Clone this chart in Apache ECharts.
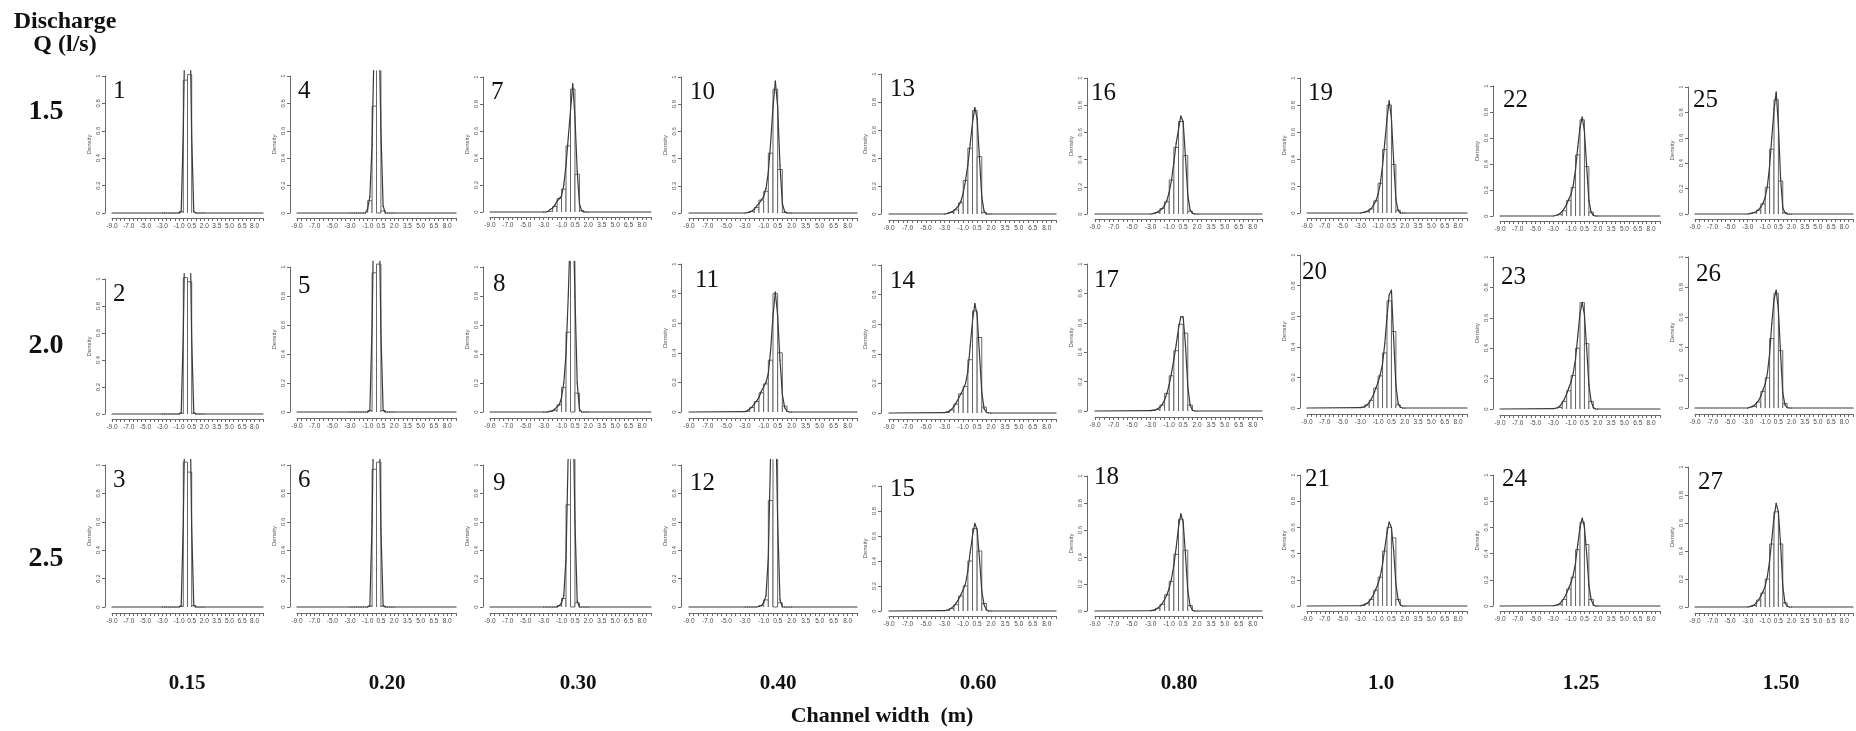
<!DOCTYPE html>
<html>
<head>
<meta charset="utf-8">
<script src="https://cdn.jsdelivr.net/npm/echarts@6/dist/echarts.min.js"></script>
<style>
  html, body { margin: 0; padding: 0; background: #ffffff; }
  #chart { width: 1856px; height: 731px; }
</style>
</head>
<body>
<div id="chart"></div>
<script>
// ---- axis labels ----
const xLabelValues = [-9, -7, -5, -3, -1, 0.5, 2, 3.5, 5, 6.5, 8];
const dischargeLabels = ['1.5', '2.0', '2.5'];
const widthLabels = ['0.15', '0.20', '0.30', '0.40', '0.60', '0.80', '1.0', '1.25', '1.50'];

// ---- histogram breaks (bin width 0.5) ----
const breaks = [-3, -2.5, -2, -1.5, -1, -0.5, 0, 0.5, 1, 1.5, 2];

// ---- x positions of the listed density-curve heights ----
const curveX = [-9, -3, -2.75, -2.5, -2.25, -2, -1.75, -1.5, -1.25, -1, -0.75, -0.5, -0.25,
                0, 0.25, 0.5, 0.75, 1, 1.25, 1.5, 1.75, 2, 9];

// ---- bar densities per panel (one value per bin between breaks) ----
const bars1  = [0, 0, 0, 0, 0.01, 0.97, 1.01, 0, 0, 0];
const bars2  = [0, 0, 0, 0, 0.005, 1.01, 0.98, 0.005, 0, 0];
const bars3  = [0, 0, 0, 0, 0.005, 1.02, 0.95, 0.01, 0, 0];
const bars4  = [0, 0, 0, 0, 0.09, 0.78, 1.12, 0.015, 0, 0];
const bars5  = [0, 0, 0, 0, 0.01, 0.96, 1.02, 0.01, 0, 0];
const bars6  = [0, 0, 0, 0, 0.005, 0.97, 1.02, 0.005, 0, 0];
const bars7  = [0, 0.005, 0.04, 0.10, 0.17, 0.49, 0.91, 0.28, 0.01, 0];
const bars8  = [0, 0.005, 0.01, 0.05, 0.17, 0.55, 1.085, 0.13, 0, 0];
const bars9  = [0, 0, 0, 0.01, 0.06, 0.72, 1.18, 0.03, 0, 0];
const bars10 = [0, 0.01, 0.04, 0.095, 0.16, 0.44, 0.91, 0.32, 0.005, 0];
const bars11 = [0.005, 0.03, 0.07, 0.13, 0.19, 0.35, 0.80, 0.40, 0.04, 0];
const bars12 = [0, 0, 0, 0.01, 0.05, 0.75, 1.16, 0.03, 0, 0];
const bars13 = [0, 0.01, 0.03, 0.08, 0.24, 0.47, 0.74, 0.41, 0.01, 0];
const bars14 = [0.005, 0.02, 0.06, 0.13, 0.18, 0.36, 0.69, 0.51, 0.04, 0];
const bars15 = [0.005, 0.02, 0.05, 0.12, 0.20, 0.40, 0.66, 0.48, 0.06, 0];
const bars16 = [0, 0.01, 0.04, 0.09, 0.25, 0.49, 0.68, 0.43, 0.02, 0];
const bars17 = [0.005, 0.01, 0.04, 0.12, 0.24, 0.41, 0.59, 0.53, 0.04, 0];
const bars18 = [0.005, 0.02, 0.05, 0.12, 0.22, 0.42, 0.68, 0.45, 0.04, 0];
const bars19 = [0, 0.01, 0.03, 0.09, 0.22, 0.47, 0.80, 0.36, 0.02, 0];
const bars20 = [0.005, 0.02, 0.05, 0.13, 0.21, 0.36, 0.70, 0.50, 0.02, 0];
const bars21 = [0.005, 0.02, 0.05, 0.12, 0.22, 0.42, 0.60, 0.52, 0.05, 0];
const bars22 = [0, 0.01, 0.04, 0.12, 0.22, 0.47, 0.74, 0.38, 0.03, 0];
const bars23 = [0, 0.01, 0.05, 0.12, 0.22, 0.40, 0.70, 0.43, 0.05, 0];
const bars24 = [0, 0.01, 0.05, 0.13, 0.22, 0.43, 0.64, 0.47, 0.05, 0];
const bars25 = [0, 0.01, 0.03, 0.08, 0.21, 0.51, 0.90, 0.26, 0.01, 0];
const bars26 = [0, 0.01, 0.04, 0.11, 0.20, 0.46, 0.76, 0.38, 0.03, 0];
const bars27 = [0, 0.01, 0.05, 0.10, 0.20, 0.45, 0.68, 0.45, 0.03, 0];

// ---- density-curve heights per panel (one value per curveX entry) ----
const curve1  = [0, 0, 0, 0, 0, 0, 0, 0, 0, 0, 0.01, 0.6, 1.6, 1.8, 1.6, 0.55, 0.01, 0, 0, 0, 0, 0, 0];
const curve2  = [0, 0, 0, 0, 0, 0, 0, 0, 0, 0, 0.01, 0.6, 1.6, 1.8, 1.6, 0.55, 0.01, 0, 0, 0, 0, 0, 0];
const curve3  = [0, 0, 0, 0, 0, 0, 0, 0, 0, 0, 0.01, 0.6, 1.6, 1.8, 1.6, 0.55, 0.01, 0, 0, 0, 0, 0, 0];
const curve4  = [0, 0, 0, 0, 0, 0, 0, 0, 0, 0.03, 0.12, 0.5, 1.3, 1.6, 1.5, 0.6, 0.05, 0, 0, 0, 0, 0, 0];
const curve5  = [0, 0, 0, 0, 0, 0, 0, 0, 0, 0, 0.01, 0.6, 1.6, 1.8, 1.6, 0.55, 0.01, 0, 0, 0, 0, 0, 0];
const curve6  = [0, 0, 0, 0, 0, 0, 0, 0, 0, 0, 0.01, 0.6, 1.6, 1.8, 1.6, 0.55, 0.01, 0, 0, 0, 0, 0, 0];
const curve7  = [0, 0, 0, 0.005, 0.02, 0.03, 0.05, 0.08, 0.10, 0.12, 0.20, 0.35, 0.55, 0.75, 0.95, 0.70, 0.30, 0.06, 0.01, 0, 0, 0, 0];
const curve8  = [0, 0, 0, 0, 0.005, 0.01, 0.02, 0.035, 0.05, 0.10, 0.20, 0.40, 0.80, 1.30, 1.50, 0.80, 0.20, 0.02, 0, 0, 0, 0, 0];
const curve9  = [0, 0, 0, 0, 0, 0, 0, 0, 0.01, 0.03, 0.08, 0.35, 1.10, 1.50, 1.50, 0.60, 0.04, 0, 0, 0, 0, 0, 0];
const curve10 = [0, 0, 0.003, 0.008, 0.015, 0.03, 0.05, 0.07, 0.095, 0.12, 0.18, 0.30, 0.52, 0.78, 0.97, 0.78, 0.35, 0.07, 0.01, 0, 0, 0, 0];
const curve11 = [0, 0.003, 0.008, 0.02, 0.035, 0.055, 0.075, 0.10, 0.14, 0.17, 0.20, 0.26, 0.42, 0.65, 0.81, 0.65, 0.35, 0.12, 0.03, 0.005, 0, 0, 0];
const curve12 = [0, 0, 0, 0, 0, 0, 0, 0.005, 0.01, 0.03, 0.08, 0.35, 1.10, 1.50, 1.50, 0.60, 0.05, 0, 0, 0, 0, 0, 0];
const curve13 = [0, 0, 0.003, 0.01, 0.015, 0.025, 0.04, 0.06, 0.09, 0.15, 0.24, 0.35, 0.50, 0.65, 0.76, 0.68, 0.40, 0.12, 0.02, 0, 0, 0, 0];
const curve14 = [0, 0.003, 0.006, 0.012, 0.025, 0.045, 0.07, 0.10, 0.13, 0.16, 0.20, 0.28, 0.45, 0.62, 0.74, 0.66, 0.40, 0.14, 0.03, 0.005, 0, 0, 0];
const curve15 = [0, 0.003, 0.006, 0.012, 0.025, 0.04, 0.065, 0.095, 0.13, 0.17, 0.22, 0.32, 0.47, 0.60, 0.70, 0.65, 0.42, 0.16, 0.05, 0.01, 0, 0, 0];
const curve16 = [0, 0, 0.003, 0.008, 0.015, 0.025, 0.04, 0.065, 0.10, 0.16, 0.25, 0.38, 0.52, 0.62, 0.72, 0.68, 0.42, 0.14, 0.03, 0.005, 0, 0, 0];
const curve17 = [0, 0.002, 0.004, 0.008, 0.015, 0.025, 0.045, 0.075, 0.12, 0.18, 0.26, 0.35, 0.45, 0.56, 0.64, 0.64, 0.45, 0.17, 0.04, 0.005, 0, 0, 0];
const curve18 = [0, 0.002, 0.005, 0.01, 0.02, 0.035, 0.055, 0.085, 0.12, 0.17, 0.24, 0.34, 0.47, 0.62, 0.72, 0.66, 0.42, 0.15, 0.04, 0.005, 0, 0, 0];
const curve19 = [0, 0, 0.003, 0.007, 0.012, 0.02, 0.035, 0.06, 0.09, 0.14, 0.22, 0.35, 0.52, 0.70, 0.83, 0.70, 0.38, 0.10, 0.02, 0, 0, 0, 0];
const curve20 = [0, 0.002, 0.005, 0.01, 0.02, 0.035, 0.06, 0.09, 0.13, 0.17, 0.22, 0.29, 0.42, 0.60, 0.74, 0.77, 0.45, 0.15, 0.03, 0.005, 0, 0, 0];
const curve21 = [0, 0.002, 0.005, 0.01, 0.02, 0.035, 0.06, 0.09, 0.13, 0.17, 0.23, 0.32, 0.44, 0.56, 0.64, 0.60, 0.42, 0.17, 0.05, 0.01, 0, 0, 0];
const curve22 = [0, 0, 0.004, 0.01, 0.02, 0.035, 0.06, 0.09, 0.13, 0.17, 0.24, 0.36, 0.53, 0.68, 0.76, 0.65, 0.38, 0.12, 0.03, 0.005, 0, 0, 0];
const curve23 = [0, 0.002, 0.005, 0.01, 0.02, 0.04, 0.065, 0.10, 0.14, 0.18, 0.24, 0.33, 0.48, 0.63, 0.70, 0.62, 0.40, 0.16, 0.05, 0.01, 0, 0, 0];
const curve24 = [0, 0.002, 0.005, 0.01, 0.02, 0.04, 0.065, 0.10, 0.14, 0.18, 0.24, 0.33, 0.47, 0.60, 0.67, 0.60, 0.40, 0.16, 0.05, 0.01, 0, 0, 0];
const curve25 = [0, 0, 0.003, 0.007, 0.012, 0.02, 0.035, 0.055, 0.085, 0.13, 0.22, 0.38, 0.60, 0.82, 0.96, 0.70, 0.28, 0.05, 0.01, 0, 0, 0, 0];
const curve26 = [0, 0, 0.004, 0.01, 0.018, 0.03, 0.05, 0.08, 0.12, 0.16, 0.23, 0.36, 0.56, 0.72, 0.78, 0.65, 0.36, 0.10, 0.02, 0.003, 0, 0, 0];
const curve27 = [0, 0, 0.003, 0.008, 0.015, 0.03, 0.05, 0.08, 0.11, 0.15, 0.22, 0.33, 0.48, 0.64, 0.74, 0.68, 0.45, 0.15, 0.03, 0.005, 0, 0, 0];

const panelBars = [bars1, bars2, bars3, bars4, bars5, bars6, bars7, bars8, bars9, bars10, bars11, bars12, bars13, bars14,
                   bars15, bars16, bars17, bars18, bars19, bars20, bars21, bars22, bars23, bars24, bars25, bars26, bars27];
const panelCurves = [curve1, curve2, curve3, curve4, curve5, curve6, curve7, curve8, curve9, curve10, curve11, curve12, curve13,
                     curve14, curve15, curve16, curve17, curve18, curve19, curve20, curve21, curve22, curve23, curve24, curve25,
                     curve26, curve27];

// ---- panel layout (pixels): x of the first tick, axis length, y of density 1 and 0 ----
const colLeft  = [112, 297, 490, 689, 889, 1095, 1307, 1500, 1695];
const colWidth = [151, 159, 161, 168, 167, 167, 160, 160, 161];
const rowTop = [
  [76, 76, 77, 77, 74, 78, 78, 86, 87],
  [279, 267, 267, 264, 265, 264, 255, 257, 257],
  [465, 465, 465, 465, 486, 476, 475, 475, 467]
];
const rowBottom = [
  [213, 213, 212, 213, 214, 214, 213, 216, 214],
  [414, 412, 412, 412, 413, 411, 408, 409, 408],
  [607, 607, 607, 607, 611, 611, 606, 606, 607]
];
// nudges (dx, dy) of each panel number from its default spot, by panel number
const numberNudge = [
  [0, 0], [0, 0], [0, 0], [0, 0], [0, 4], [0, 0], [0, 0], [2, 2], [2, 3],
  [0, 0], [5, 1], [0, 3], [0, 0], [0, 1], [0, -12], [-5, 0], [-2, 1], [-2, -14],
  [0, 0], [-6, 2], [-3, -11], [2, -1], [0, 5], [1, -11], [-3, -2], [0, 2], [2, 0]
];
const rowLabelY = [112, 346, 559];
const colLabelX = [187, 387, 578, 778, 978, 1179, 1381, 1581, 1781];

// the plotting region ends slightly above density 1; taller marks are cut there
const CEIL = 1.04;
const BAR_STROKE = '#666666';
const CURVE_STROKE = '#3a3a3a';
const AXIS_COLOR = '#6a6a6a';

function renderBar(params, api) {
  const x0 = api.value(0), x1 = api.value(1), h = api.value(2);
  if (!(h > 0)) return null;
  const cut = h > CEIL;
  const bl = api.coord([x0, 0]);
  const tr = api.coord([x1, Math.min(h, CEIL)]);
  const outline = cut
    ? [[bl[0], tr[1]], [bl[0], bl[1]], [tr[0], bl[1]], [tr[0], tr[1]]]
    : [[bl[0], bl[1]], [bl[0], tr[1]], [tr[0], tr[1]], [tr[0], bl[1]]];
  return {
    type: 'group',
    children: [
      { type: 'rect', shape: { x: bl[0], y: tr[1], width: tr[0] - bl[0], height: bl[1] - tr[1] },
        style: { fill: '#ffffff' } },
      { type: 'polyline', shape: { points: outline },
        style: { stroke: BAR_STROKE, fill: null, lineWidth: 1 } }
    ]
  };
}

function renderSegment(params, api) {
  let a = api.coord([api.value(0), api.value(1)]);
  let b = api.coord([api.value(2), api.value(3)]);
  const ceilY = api.coord([0, CEIL])[1];
  const aOut = a[1] < ceilY, bOut = b[1] < ceilY;
  if (aOut && bOut) return null;
  if (aOut || bOut) {
    const t = (ceilY - a[1]) / (b[1] - a[1]);
    const p = [a[0] + t * (b[0] - a[0]), ceilY];
    if (aOut) a = p; else b = p;
  }
  return {
    type: 'line',
    shape: { x1: a[0], y1: a[1], x2: b[0], y2: b[1] },
    style: { stroke: CURVE_STROKE, lineWidth: 1.2, lineCap: 'round' }
  };
}

const grids = [], xAxes = [], yAxes = [], series = [], texts = [];
const serif = '"Liberation Serif", "Times New Roman", serif';
const sans = '"Liberation Sans", Arial, sans-serif';

for (let c = 0; c < 9; c++) {
  for (let r = 0; r < 3; r++) {
    const i = grids.length;
    const n = c * 3 + r + 1;
    const left = colLeft[c], width = colWidth[c];
    const top = rowTop[r][c], height = rowBottom[r][c] - top;

    grids.push({ left: left, top: top, width: width, height: height, containLabel: false });

    xAxes.push({
      type: 'value', gridIndex: i, min: -9, max: 9, interval: 0.5,
      offset: Math.round(height * 0.04),
      axisLine: { show: true, onZero: false, lineStyle: { color: AXIS_COLOR, width: 1 } },
      axisTick: { show: true, length: 3, lineStyle: { color: AXIS_COLOR } },
      axisLabel: {
        fontSize: 6.5, color: '#4a4a4a', margin: 5, interval: 0, hideOverlap: false, fontFamily: sans,
        formatter: v => (xLabelValues.indexOf(v) >= 0 ? v.toFixed(1) : '')
      },
      splitLine: { show: false }
    });

    yAxes.push({
      type: 'value', gridIndex: i, min: 0, max: 1, interval: 0.2,
      offset: Math.round(width * 0.045),
      name: 'Density', nameLocation: 'middle', nameGap: 13, nameRotate: 90,
      nameTextStyle: { fontSize: 6, color: '#555', fontFamily: sans },
      axisLine: { show: true, onZero: false, lineStyle: { color: AXIS_COLOR, width: 1 } },
      axisTick: { show: true, length: 3, lineStyle: { color: AXIS_COLOR } },
      axisLabel: {
        rotate: 90, fontSize: 6, color: '#555', margin: 4, fontFamily: sans,
        formatter: v => (v === 0 || v === 1 ? String(v) : v.toFixed(1))
      },
      splitLine: { show: false }
    });

    const heights = panelBars[n - 1];
    const barData = heights.map((h, k) => [breaks[k], breaks[k + 1], h]);
    series.push({
      type: 'custom', xAxisIndex: i, yAxisIndex: i, clip: false, silent: true,
      renderItem: renderBar, data: barData, animation: false
    });

    const ys = panelCurves[n - 1];
    const segData = [];
    for (let k = 0; k < curveX.length - 1; k++) {
      segData.push([curveX[k], ys[k], curveX[k + 1], ys[k + 1]]);
    }
    series.push({
      type: 'custom', xAxisIndex: i, yAxisIndex: i, clip: false, silent: true,
      renderItem: renderSegment, data: segData, animation: false
    });

    const nudge = numberNudge[n - 1];
    texts.push({
      type: 'text', x: left + 1 + nudge[0], y: top + 3 + nudge[1], silent: true,
      style: { text: String(n), fontFamily: serif, fontSize: 25, fill: '#111', align: 'left', verticalAlign: 'top' }
    });
  }
}

// headings and category labels
texts.push({ type: 'text', x: 65, y: 22, silent: true,
  style: { text: 'Discharge', fontFamily: serif, fontWeight: 'bold', fontSize: 24, fill: '#111', align: 'center', verticalAlign: 'middle' } });
texts.push({ type: 'text', x: 65, y: 45, silent: true,
  style: { text: 'Q (l/s)', fontFamily: serif, fontWeight: 'bold', fontSize: 24, fill: '#111', align: 'center', verticalAlign: 'middle' } });
dischargeLabels.forEach((t, r) => {
  texts.push({ type: 'text', x: 46, y: rowLabelY[r], silent: true,
    style: { text: t, fontFamily: serif, fontWeight: 'bold', fontSize: 28, fill: '#111', align: 'center', verticalAlign: 'middle' } });
});
widthLabels.forEach((t, c) => {
  texts.push({ type: 'text', x: colLabelX[c], y: 684, silent: true,
    style: { text: t, fontFamily: serif, fontWeight: 'bold', fontSize: 21, fill: '#111', align: 'center', verticalAlign: 'middle' } });
});
texts.push({ type: 'text', x: 882, y: 716, silent: true,
  style: { text: 'Channel width  (m)', fontFamily: serif, fontWeight: 'bold', fontSize: 22, fill: '#111', align: 'center', verticalAlign: 'middle' } });

const chart = echarts.init(document.getElementById('chart'), null, { renderer: 'canvas' });
chart.setOption({
  backgroundColor: '#ffffff',
  animation: false,
  grid: grids,
  xAxis: xAxes,
  yAxis: yAxes,
  series: series,
  graphic: { elements: texts }
});
</script>
</body>
</html>
